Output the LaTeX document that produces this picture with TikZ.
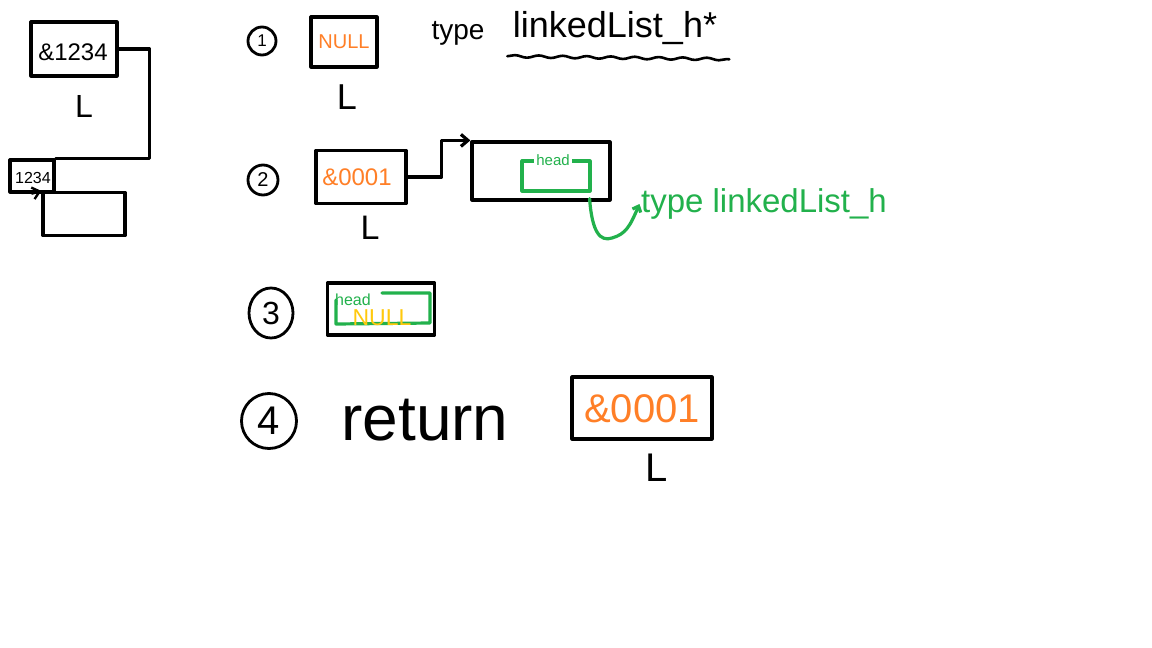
\documentclass[tikz,border=0pt]{standalone}
\usepackage{fontspec}
\setmainfont{Liberation Sans}
\usetikzlibrary{arrows.meta,decorations.pathmorphing,shapes.geometric}
\definecolor{porange}{HTML}{FF7F27}
\definecolor{pgreen}{HTML}{22B14C}
\definecolor{pyellow}{HTML}{FFC90E}
\begin{document}
\begin{tikzpicture}[x=1pt,y=-1pt,line width=3.2pt,line join=round,line cap=round,
  cell/.style 2 args={draw,rectangle,minimum width=#1,minimum height=#2,inner sep=0pt},
  num/.style={draw,circle,inner sep=0pt,line width=2.8pt},
  ltr/.style={inner sep=0pt,font=\fontsize{#1}{#1}\selectfont},
  tag/.style={inner sep=0pt,font=\fontsize{#1}{#1}\selectfont},
  link/.style={-{Straight Barb[length=7pt,width=12pt]}},
  garrow/.style={draw=pgreen,-{Straight Barb[length=5pt,width=9pt]}}]
\useasboundingbox[fill=white] (0,0) rectangle (1152,648);

% ---- left sketch ----
\node[cell={86}{54}] (a) at (74,49) {};
\node[tag=24] (at) at (73,52) {\&1234};
\node[ltr=32] (la) at (84,106) {L};
\node[cell={44}{32}] (lb) at (32,176) {};
\node[tag=16] (lbt) at (33,178) {1234};
\node[cell={82}{43}] (b) at (84,214) {};
\draw (a.east) -- ++(31,0) |- (lb.north east);
\draw[link,line width=2.4pt] (lb.south) -- (b.north west);

% ---- step 1 ----
\node[num,minimum size=28pt,font=\fontsize{17}{17}\selectfont] (n1) at (262,41) {1};
\node[cell={66}{50}] (c1) at (344,42) {};
\node[tag=20,text=porange] (c1t) at (344,42) {NULL};
\node[ltr=36] (l1) at (347,97) {L};
\node[tag=28] (ty1) at (458,33) {type};
\node[tag=36] (ty1b) at (615,28) {linkedList\_h*};
\draw[decorate,decoration={snake,amplitude=1.2pt,segment length=24pt},line width=2.6pt]
  (ty1b.south west) ++(-4,10) -- ++(222,3);

% ---- step 2 ----
\node[num,minimum size=30pt,font=\fontsize{20}{20}\selectfont] (n2) at (263,180) {2};
\node[cell={90}{53}] (c2) at (361,177) {};
\node[tag=24,text=porange] (c2t) at (357,177) {\&0001};
\node[ltr=34] (l2) at (370,228) {L};
\node[cell={138}{58}] (c3) at (541,171) {};
\draw[link] (c2.east) -- ++(34,0) |- (c3.north west);
\node[cell={68}{30},draw=pgreen] (hb) at (556,176) {};
\node[tag=15,text=pgreen,fill=white,inner xsep=2pt] (hbt) at (553,160) {head};
\node[tag=33,text=pgreen] (t2) at (764,204) {type linkedList\_h};
\draw[garrow] (hb.south east) ++(-2,6) coordinate (gs)
  (gs) .. controls (592,232) and (600,242) .. (612,238)
  .. controls (626,234) and (630,226) .. (t2.west);

% ---- step 3 ----
\node[num,minimum width=44pt,minimum height=50pt,ellipse,font=\fontsize{32}{32}\selectfont] (n3) at (271,313) {3};
\node[cell={107}{52}] (c4) at (381,309) {};
\draw[pgreen] (336,300) -- (336,324) -- (430,323) -- (430,293) -- (382,293);
\node[tag=16,text=pgreen] (c4h) at (353,300) {head};
\node[tag=23,text=pyellow] (c4n) at (382,318) {NULL};

% ---- step 4 ----
\node[num,minimum size=55pt,font=\fontsize{40}{40}\selectfont] (n4) at (269,421) {4};
\node[tag=64] (ret) at (425,420) {return};
\node[cell={140}{62}] (c5) at (642,408) {};
\node[tag=40,text=porange] (c5t) at (642,409) {\&0001};
\node[ltr=40] (l5) at (657,468) {L};
\end{tikzpicture}
\end{document}
